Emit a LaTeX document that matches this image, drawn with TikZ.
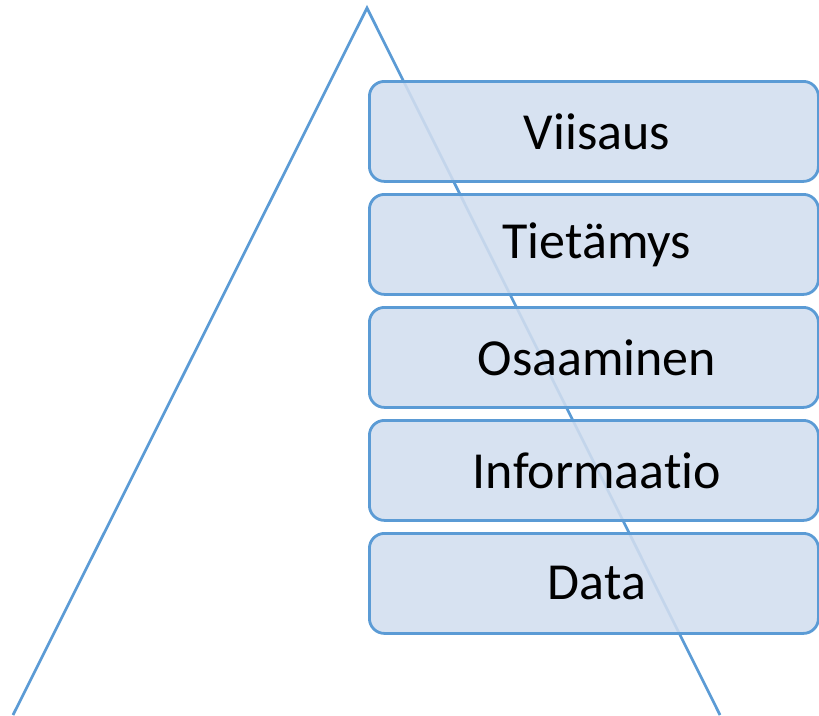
\documentclass[tikz,border=0pt]{standalone}
\usepackage{fontspec}
\setmainfont[Ligatures=NoCommon]{Carlito}
\definecolor{lineblue}{HTML}{5B9BD5}
\definecolor{boxfill}{HTML}{D2DEEF}
\begin{document}
\begin{tikzpicture}[x=1pt,y=-1pt,
  level/.style={draw=lineblue, line width=2.8pt, fill=boxfill, fill opacity=0.88, text opacity=1,
    rounded corners=15pt, minimum width=449pt, minimum height=100pt, anchor=north west,
    inner sep=0pt, font=\fontsize{52}{60}\selectfont},
  tri/.style={draw=lineblue, line width=2.7pt}]
\useasboundingbox (0,0) rectangle (819,715);
\coordinate (apex) at (367,8);
\coordinate (bl) at (13,715);
\coordinate (br) at (720,715);
\draw[tri] (bl) -- (apex) -- (br);
\node[level] (v) at (368,80) {\hspace*{6pt}Viisaus};
\node[level] (t) at (368,193) {\hspace*{6pt}Tietämys};
\node[level] (o) at (368,306) {\hspace*{6pt}Osaaminen};
\node[level] (i) at (368,419) {\hspace*{6pt}Informaatio};
\node[level] (d) at (368,532) {\hspace*{6pt}Data};
\end{tikzpicture}
\end{document}
